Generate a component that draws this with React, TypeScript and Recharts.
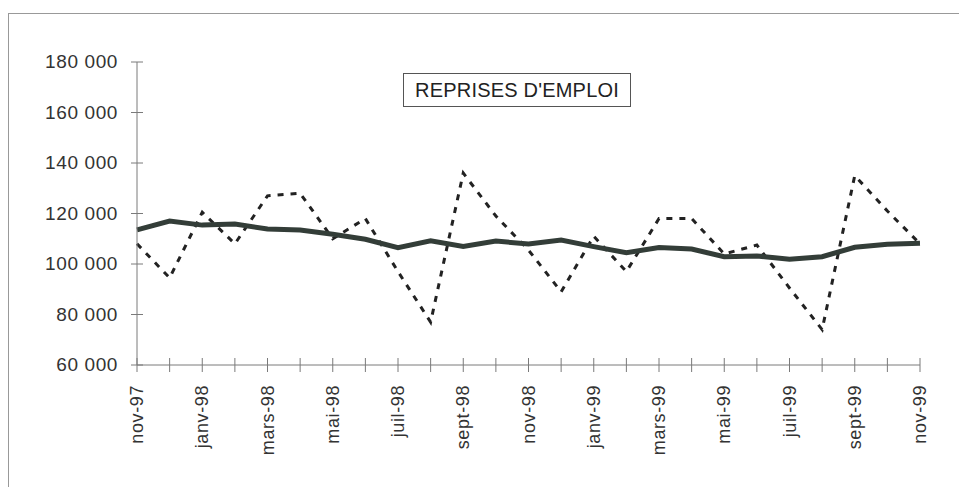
import { LineChart, Line, XAxis, YAxis } from 'recharts'

const MONTHS = [
  'nov-97', 'déc-97', 'janv-98', 'févr-98', 'mars-98', 'avr-98', 'mai-98', 'juin-98', 'juil-98',
  'août-98', 'sept-98', 'oct-98', 'nov-98', 'déc-98', 'janv-99', 'févr-99', 'mars-99', 'avr-99',
  'mai-99', 'juin-99', 'juil-99', 'août-99', 'sept-99', 'oct-99', 'nov-99',
]

// monthly values (dashed)
const BRUTES = [
  108000, 94500, 120500, 108000, 127000, 128000, 110000, 118000, 97000,
  77000, 136000, 119000, 105500, 89000, 111000, 97000, 118000, 118000,
  104000, 107500, 90500, 74000, 135000, 121000, 108000,
]

// smoothed series (thick)
const CVS = [
  113500, 117000, 115400, 115800, 113900, 113500, 111800, 109800, 106500,
  109200, 106900, 109100, 107900, 109500, 106900, 104500, 106500, 105900,
  102900, 103200, 101900, 102900, 106600, 107800, 108200,
]

const Y_TICKS = [60000, 80000, 100000, 120000, 140000, 160000, 180000]

const data = MONTHS.map((m, i) => ({ month: m, brutes: BRUTES[i], cvs: CVS[i] }))

const FONT = '"Liberation Sans", Arial, sans-serif'
const AXIS = '#7a7a7a'
const TEXT = '#333'

function fmt(v: number): string {
  return String(v).replace(/\B(?=(\d{3})+(?!\d))/g, ' ')
}

function YTick(props: any) {
  const { x, y, payload } = props
  return (
    <g>
      <line x1={x - 6} x2={x + 6} y1={y} y2={y} stroke={AXIS} />
      <text x={x - 19} y={y + 6} textAnchor="end" fill={TEXT} fontSize={19} fontFamily={FONT} letterSpacing={0.6}>
        {fmt(payload.value)}
      </text>
    </g>
  )
}

function XTick(props: any) {
  const { x, y, payload, index } = props
  const i = payload.index ?? index
  return (
    <g>
      <line x1={x} x2={x} y1={y - 7} y2={y + 7} stroke={AXIS} />
      {i % 2 === 0 && (
        <text
          x={x + 6}
          y={y + 20}
          transform={`rotate(-90, ${x + 6}, ${y + 20})`}
          textAnchor="end"
          fill={TEXT}
          fontSize={18}
          fontFamily={FONT}
          letterSpacing={0.6}
        >
          {payload.value}
        </text>
      )}
    </g>
  )
}

export default function App() {
  return (
    <div style={{ position: 'absolute', left: 0, top: 0, width: 959, height: 487, background: '#fff', fontFamily: FONT }}>
      <div
        style={{
          position: 'absolute', left: 8, top: 13, width: 951, height: 474,
          borderTop: '1px solid #999', borderLeft: '1px solid #999',
        }}
      />
      <LineChart width={959} height={487} data={data} margin={{ top: 62, right: 39, bottom: 0, left: 0 }}>
        <XAxis
          dataKey="month"
          interval={0}
          height={122}
          tickSize={0}
          tickMargin={0}
          stroke={AXIS}
          tick={<XTick />}
        />
        <YAxis
          domain={[60000, 180000]}
          ticks={Y_TICKS}
          width={137}
          tickSize={0}
          tickMargin={0}
          stroke={AXIS}
          tick={<YTick />}
        />
        <Line
          type="linear"
          dataKey="brutes"
          stroke="#222"
          strokeWidth={3}
          strokeDasharray="6 7"
          dot={false}
          isAnimationActive={false}
        />
        <Line
          type="linear"
          dataKey="cvs"
          stroke="#333d38"
          strokeWidth={5}
          dot={false}
          isAnimationActive={false}
        />
      </LineChart>
      <div
        style={{
          position: 'absolute', left: 403, top: 73, width: 228, height: 34,
          border: '1px solid #555', boxSizing: 'border-box',
          display: 'flex', alignItems: 'center', justifyContent: 'center',
          fontSize: 20, color: '#222', letterSpacing: 0.2,
        }}
      >
        REPRISES D'EMPLOI
      </div>
    </div>
  )
}
